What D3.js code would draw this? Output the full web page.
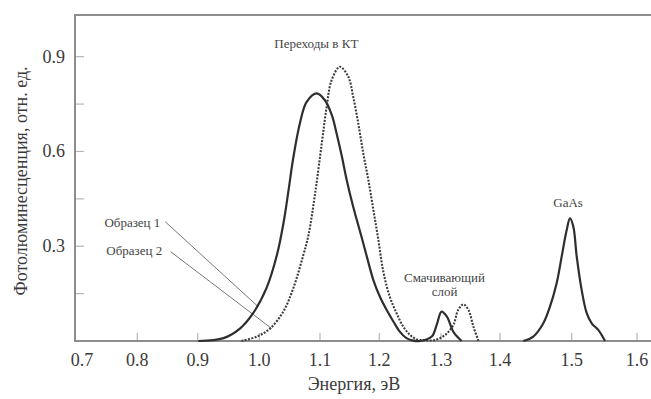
<!DOCTYPE html>
<html>
<head>
<meta charset="utf-8">
<script src="https://cdn.jsdelivr.net/npm/d3@7"></script>
<style>
  html, body { margin: 0; padding: 0; background: #fff; }
  svg { display: block; }
  text { font-family: "Liberation Serif", "DejaVu Serif", serif; }
</style>
</head>
<body>
<svg id="chart" width="651" height="399"></svg>
<script>
// ---- data (energy, eV ; photoluminescence, arb. units) ----
const sample1Energy = [0.901, 0.942, 0.969, 0.990, 1.012, 1.029, 1.040, 1.048, 1.056, 1.067, 1.078, 1.0946, 1.108, 1.120, 1.128, 1.137, 1.145, 1.156, 1.170, 1.179, 1.190, 1.201, 1.212, 1.223, 1.2335, 1.244, 1.255, 1.266, 1.285, 1.293, 1.301, 1.310, 1.321, 1.335];
const sample1Value  = [0.000, 0.009, 0.040, 0.088, 0.168, 0.272, 0.375, 0.475, 0.580, 0.690, 0.757, 0.784,  0.763, 0.715, 0.657, 0.583, 0.510, 0.425, 0.330, 0.267, 0.193, 0.140, 0.098, 0.061, 0.029,  0.009, 0.001, 0.000, 0.014, 0.051, 0.093, 0.077, 0.029, 0.000];

const sample2Energy = [0.971, 0.996, 1.018, 1.0395, 1.056, 1.0725, 1.081, 1.092, 1.103, 1.1113, 1.1196, 1.1336, 1.1476, 1.156, 1.1645, 1.173, 1.1815, 1.190, 1.198, 1.2065, 1.217, 1.228, 1.239, 1.250, 1.261, 1.2715, 1.290, 1.307, 1.321, 1.329, 1.338, 1.3466, 1.355, 1.3636];
const sample2Value  = [0.000, 0.014, 0.040, 0.093,  0.167, 0.272,  0.335, 0.468, 0.626, 0.742,  0.826,  0.868,  0.837,  0.773, 0.689,  0.594, 0.510,  0.415, 0.325, 0.220,  0.140, 0.088, 0.045, 0.019, 0.005, 0.003,  0.003, 0.019, 0.051, 0.098, 0.116, 0.098,  0.045, 0.000];

const gaasEnergy = [1.4325, 1.4464, 1.4604, 1.4697, 1.479, 1.486, 1.493, 1.4976, 1.5025, 1.5077, 1.5153, 1.523, 1.5306, 1.5407, 1.551];
const gaasValue  = [0.000,  0.014,  0.056,  0.109,  0.183, 0.267, 0.351, 0.388,  0.362,  0.267,  0.161,  0.088, 0.056,  0.035,  0.000];

const xTickValues = [0.7, 0.8, 0.9, 1.0, 1.1, 1.2, 1.3, 1.4, 1.5, 1.6];
const xTickLabels = ["0.7", "0.8", "0.9", "1.0", "1.1", "1.2", "1.3", "1.4", "1.5", "1.6"];
const yTickValues = [0.15, 0.3, 0.45, 0.6, 0.75, 0.9];
const yTickLabels = ["", "0.3", "", "0.6", "", "0.9"];

const xTitle = "Энергия, эВ";
const yTitle = "Фотолюминесценция, отн. ед.";

// annotations: text and anchor in data units
const noteText   = ["Переходы в КТ", "Образец 1", "Образец 2", "Смачивающий", "слой", "GaAs"];
const noteEnergy = [1.094, 0.792, 0.795, 1.306, 1.306, 1.495];
const noteValue  = [0.927, 0.361, 0.272, 0.188, 0.141, 0.423];
// leader lines (from label to curve), data units
const leaderFromE = [0.846, 0.855];
const leaderFromV = [0.378, 0.283];
const leaderToE   = [0.998, 1.020];
const leaderToV   = [0.109, 0.040];

// ---- layout ----
const svg = d3.select("#chart");
const plotLeft = 75, plotTop = 15, plotBottom = 341, plotRight = 651;

// axis in the original is drawn with slightly uneven tick spacing
const x = d3.scaleLinear()
  .domain(xTickValues)
  .range([76, 137.3, 197.7, 259.3, 320, 379.3, 441, 500, 571.7, 637]);
const y = d3.scaleLinear().domain([0, 1.032]).range([plotBottom, plotTop]);

const frameColor = "#8d8d8d";
const tickColor = "#b5b5b5";
const textColor = "#3a3a3a";

// ticks
svg.append("g").selectAll("line").data(xTickValues.slice(1)).join("line")
  .attr("x1", d => x(d)).attr("x2", d => x(d))
  .attr("y1", plotBottom).attr("y2", plotBottom - 8)
  .attr("stroke", tickColor).attr("stroke-width", 1.2);
svg.append("g").selectAll("line").data(yTickValues).join("line")
  .attr("x1", plotLeft).attr("x2", plotLeft + 9)
  .attr("y1", d => y(d)).attr("y2", d => y(d))
  .attr("stroke", tickColor).attr("stroke-width", 1.2);

// frame
svg.append("path")
  .attr("d", `M${plotRight},${plotTop}H${plotLeft}V${plotBottom}H${plotRight}`)
  .attr("fill", "none").attr("stroke", frameColor).attr("stroke-width", 2);

// tick labels
svg.append("g").selectAll("text").data(xTickValues).join("text")
  .attr("x", (d, i) => x(d) + (i === 0 ? 6 : 0))
  .attr("y", 366)
  .attr("text-anchor", "middle")
  .attr("font-size", 18).attr("fill", textColor)
  .text((d, i) => xTickLabels[i]);
svg.append("g").selectAll("text").data(yTickValues).join("text")
  .attr("x", 65)
  .attr("y", d => y(d) + 6)
  .attr("text-anchor", "end")
  .attr("font-size", 18).attr("fill", textColor)
  .text((d, i) => yTickLabels[i]);

// titles
svg.append("text")
  .attr("x", 354).attr("y", 390)
  .attr("text-anchor", "middle").attr("font-size", 18).attr("fill", textColor)
  .text(xTitle);
svg.append("text")
  .attr("transform", "translate(27,181) rotate(-90)")
  .attr("text-anchor", "middle").attr("font-size", 18).attr("fill", textColor)
  .text(yTitle);

// leader lines
svg.append("g").selectAll("line").data(leaderFromE).join("line")
  .attr("x1", (d, i) => x(d)).attr("y1", (d, i) => y(leaderFromV[i]))
  .attr("x2", (d, i) => x(leaderToE[i])).attr("y2", (d, i) => y(leaderToV[i]))
  .attr("stroke", "#777").attr("stroke-width", 1);

// curves
const line = d3.line()
  .x(d => x(d[0])).y(d => y(Math.max(0, d[1])))
  .curve(d3.curveCatmullRom.alpha(0.5));
const zip = (a, b) => a.map((v, i) => [v, b[i]]);

svg.append("path").datum(zip(sample2Energy, sample2Value))
  .attr("d", line).attr("fill", "none")
  .attr("stroke", "#3c3c3c").attr("stroke-width", 2.1)
  .attr("stroke-dasharray", "2,1.4");
svg.append("path").datum(zip(sample1Energy, sample1Value))
  .attr("d", line).attr("fill", "none")
  .attr("stroke", "#2e2e2e").attr("stroke-width", 2.2);
svg.append("path").datum(zip(gaasEnergy, gaasValue))
  .attr("d", line).attr("fill", "none")
  .attr("stroke", "#2e2e2e").attr("stroke-width", 2.2);

// annotations
svg.append("g").selectAll("text").data(noteText).join("text")
  .attr("x", (d, i) => x(noteEnergy[i]))
  .attr("y", (d, i) => y(noteValue[i]))
  .attr("text-anchor", "middle")
  .attr("font-size", 13).attr("fill", "#444")
  .text(d => d);
</script>
</body>
</html>
